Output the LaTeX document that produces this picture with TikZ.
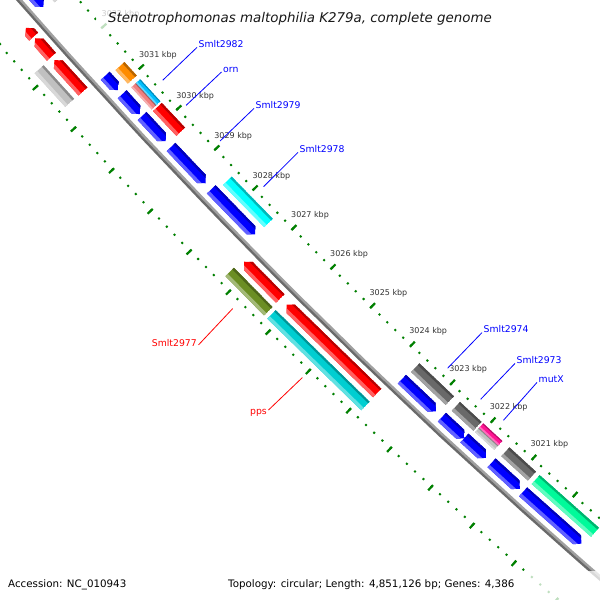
\documentclass[tikz,border=0pt]{standalone}
\usepackage{fontspec}
\setmainfont{DejaVu Sans}
\definecolor{cBlue}{HTML}{0000FF}
\definecolor{cRed}{HTML}{FF0000}
\definecolor{cOrange}{HTML}{FF8C00}
\definecolor{cSky}{HTML}{00BFFF}
\definecolor{cSalmon}{HTML}{F08080}
\definecolor{cCyan}{HTML}{00FFFF}
\definecolor{cDim}{HTML}{696969}
\definecolor{cLightGrey}{HTML}{C0C0C0}
\definecolor{cMagenta}{HTML}{FF1493}
\definecolor{cMint}{HTML}{00FA9A}
\definecolor{cOlive}{HTML}{6B8E23}
\definecolor{cTeal}{HTML}{00CED1}
\definecolor{tickgreen}{HTML}{008000}
\definecolor{tickgrey}{HTML}{333333}
\definecolor{bbLight}{HTML}{A0A0A0}
\definecolor{bbDark}{HTML}{6A6A6A}

% genome coordinate system: k = position in kbp, d = offset from backbone (towards upper right)
\tikzset{gm/.cd, k/.store in=\gmk, d/.store in=\gmd, k=3026, d=0}
\tikzdeclarecoordinatesystem{gm}{%
  \tikzset{gm/.cd,#1}%
  \pgfmathsetmacro\gmA{134.84+((\gmk)-3026)*0.526}%
  \pgfmathsetmacro\gmR{6082-(\gmd)}%
  \pgfpointadd{\pgfpointxy{4589}{-4013}}{\pgfpointpolarxy{\gmA}{\gmR}}%
}

\newcommand\paintfeat[6]{%
  \begin{scope}
    \clip #6;
    \fill[#5] #6;
    \pgfmathsetmacro\fzLo{#3+0.27*((#4)-(#3))}%
    \pgfmathsetmacro\fzHi{#4-0.2*((#4)-(#3))}%
    \fill[#5!62!white] (gm cs:k=#1+0.3,d=#3-1) -- (gm cs:k=#1+0.3,d=\fzLo) -- (gm cs:k=#2-0.3,d=\fzLo) -- (gm cs:k=#2-0.3,d=#3-1) -- cycle;
    \fill[#5!72!black] (gm cs:k=#1+0.3,d=\fzHi) -- (gm cs:k=#1+0.3,d=#4+1) -- (gm cs:k=#2-0.3,d=#4+1) -- (gm cs:k=#2-0.3,d=\fzHi) -- cycle;
  \end{scope}}
\newcommand\gbox[5]{\paintfeat{#1}{#2}{#3}{#4}{#5}{(gm cs:k=#1,d=#3) -- (gm cs:k=#1,d=#4) -- (gm cs:k=#2,d=#4) -- (gm cs:k=#2,d=#3) -- cycle}}
\newcommand\garrowR[5]{\paintfeat{#1}{#2}{#3}{#4}{#5}{(gm cs:k=#1,d=#3) -- (gm cs:k=#1,d=#4) -- (gm cs:k=#2+0.1075,d=#4) -- (gm cs:k=#2,d={0.5*(#3)+0.5*(#4)}) -- (gm cs:k=#2+0.1075,d=#3) -- cycle}}
\newcommand\garrowL[5]{\paintfeat{#1}{#2}{#3}{#4}{#5}{(gm cs:k=#1,d={0.5*(#3)+0.5*(#4)}) -- (gm cs:k=#1-0.1075,d=#4) -- (gm cs:k=#2,d=#4) -- (gm cs:k=#2,d=#3) -- (gm cs:k=#1-0.1075,d=#3) -- cycle}}

\tikzset{
  minortick/.style={draw=tickgreen, line width=2pt},
  majortick/.style={draw=tickgreen, line width=2.2pt},
  ticklbl/.style={font=\fontsize{8}{9}\selectfont, text=tickgrey, inner sep=0pt},
  blab/.style={font=\fontsize{9.3}{11}\selectfont, text=cBlue, inner sep=0.5pt},
  rlab/.style={font=\fontsize{9.3}{11}\selectfont, text=cRed, inner sep=0.5pt},
  bline/.style={draw=cBlue, line width=0.8pt},
  rline/.style={draw=cRed, line width=0.8pt},
  fade/.style={fill=white, fill opacity=0.75},
  footer/.style={font=\fontsize{10.3}{12}\selectfont, text=black, inner sep=0pt},
  titlestyle/.style={font=\fontsize{13.4}{15}\selectfont\itshape, text=black!90, inner sep=0pt},
}

\begin{document}
\begin{tikzpicture}[x=1pt,y=-1pt]
\useasboundingbox (0,0) rectangle (600,600);
\clip (0,0) rectangle (600,600);
\fill[white] (0,0) rectangle (600,600);

% rulers
\foreach \i in {0,...,82} {
  \draw[minortick] (gm cs:k=3018.6+0.2*\i,d=43.5) -- (gm cs:k=3018.6+0.2*\i,d=45.5);
  \draw[minortick] (gm cs:k=3018.6+0.2*\i,d=-43.5) -- (gm cs:k=3018.6+0.2*\i,d=-45.5);
}
\foreach \kk in {3019,...,3034} {
  \draw[majortick] (gm cs:k=\kk,d=42.5) -- (gm cs:k=\kk,d=49.5);
  \draw[majortick] (gm cs:k=\kk,d=-42.5) -- (gm cs:k=\kk,d=-49.5);
}
\foreach \kk in {3021,...,3032} {
  \node[ticklbl] (t\kk) at (gm cs:k=\kk-0.05,d=66) {\kk\ kbp};
}

% backbone
\draw[bbLight, line width=2.4pt] plot[domain=3017:3035,samples=37] (gm cs:k=\x,d=1.2);
\draw[bbDark, line width=2.4pt] plot[domain=3017:3035,samples=37] (gm cs:k=\x,d=-1.2);

% ring A+ : blue arrows
\garrowR{3034.2}{3032.98}{7.5}{19.5}{cBlue}
\garrowR{3031.32}{3030.97}{7.5}{19.5}{cBlue}
\garrowR{3030.87}{3030.39}{7.5}{19.5}{cBlue}
\garrowR{3030.34}{3029.72}{7.5}{19.5}{cBlue}
\garrowR{3029.58}{3028.68}{7.5}{19.5}{cBlue}
\garrowR{3028.53}{3027.40}{7.5}{19.5}{cBlue}
\garrowR{3023.70}{3022.86}{7.5}{19.5}{cBlue}
\garrowR{3022.71}{3022.15}{7.5}{19.5}{cBlue}
\garrowR{3022.16}{3021.63}{7.5}{19.5}{cBlue}
\garrowR{3021.50}{3020.81}{7.5}{19.5}{cBlue}
\garrowR{3020.73}{3019.33}{7.5}{19.5}{cBlue}

% ring B+ : boxes
\gbox{3034.2}{3032.91}{25}{37}{cLightGrey}
\gbox{3031.27}{3030.94}{25}{37}{cOrange}
\gbox{3030.85}{3030.31}{25}{31.5}{cSalmon}
\gbox{3030.85}{3030.31}{31.5}{37}{cSky}
\gbox{3030.27}{3029.66}{25}{37}{cRed}
\gbox{3028.44}{3027.38}{25}{37}{cCyan}
\gbox{3023.67}{3022.81}{25}{37}{cDim}
\gbox{3022.66}{3022.13}{25}{37}{cDim}
\gbox{3022.09}{3021.62}{25}{31}{cLightGrey}
\gbox{3022.09}{3021.62}{31}{37}{cMagenta}
\gbox{3021.45}{3020.80}{25}{37}{cDim}
\gbox{3020.71}{3019.28}{25}{37}{cMint}

% ring A- : red arrows
\garrowL{3032.91}{3032.70}{-19.5}{-7.5}{cRed}
\garrowL{3032.66}{3032.22}{-19.5}{-7.5}{cRed}
\garrowL{3032.14}{3031.38}{-19.5}{-7.5}{cRed}
\garrowL{3027.19}{3026.27}{-19.5}{-7.5}{cRed}
\garrowL{3026.11}{3023.85}{-19.5}{-7.5}{cRed}

% ring B- : boxes
\gbox{3032.2}{3031.39}{-37}{-25}{cLightGrey}
\gbox{3027.24}{3026.26}{-37}{-25}{cOlive}
\gbox{3026.18}{3023.84}{-37}{-25}{cTeal}

% label anchors
\coordinate (eSmlt2982) at (gm cs:k=3030.56,d=53);
\coordinate (eorn) at (gm cs:k=3029.94,d=53);
\coordinate (eSmlt2979) at (gm cs:k=3029.05,d=53);
\coordinate (eSmlt2978) at (gm cs:k=3027.91,d=53);
\coordinate (eSmlt2974) at (gm cs:k=3023.24,d=53);
\coordinate (eSmlt2973) at (gm cs:k=3022.42,d=53);
\coordinate (emutX) at (gm cs:k=3021.86,d=53);
\coordinate (eSmlt2977) at (gm cs:k=3026.74,d=-54.5);
\coordinate (epps) at (gm cs:k=3025.00,d=-54.5);

% labels
\node[blab, anchor=base west] (lSmlt2982) at (198,47.4) {Smlt2982};
\node[blab, anchor=base west] (lorn) at (222.5,72) {orn};
\node[blab, anchor=base west] (lSmlt2979) at (255,108.4) {Smlt2979};
\node[blab, anchor=base west] (lSmlt2978) at (299,152.4) {Smlt2978};
\node[blab, anchor=base west] (lSmlt2974) at (483,332.6) {Smlt2974};
\node[blab, anchor=base west] (lSmlt2973) at (516,363.4) {Smlt2973};
\node[blab, anchor=base west] (lmutX) at (538,382.4) {mutX};
\node[rlab, anchor=base east] (lSmlt2977) at (197.5,346.4) {Smlt2977};
\node[rlab, anchor=base east] (lpps) at (267.5,414) {pps};

\draw[bline] ([xshift=-1pt]lSmlt2982.base west) -- (eSmlt2982);
\draw[bline] ([xshift=-1pt]lorn.base west) -- (eorn);
\draw[bline] ([xshift=-1pt]lSmlt2979.base west) -- (eSmlt2979);
\draw[bline] ([xshift=-1pt]lSmlt2978.base west) -- (eSmlt2978);
\draw[bline] ([xshift=-1pt]lSmlt2974.base west) -- (eSmlt2974);
\draw[bline] ([xshift=-1pt]lSmlt2973.base west) -- (eSmlt2973);
\draw[bline] ([xshift=-1pt]lmutX.base west) -- (emutX);
\draw[rline] ([xshift=1pt,yshift=1.5pt]lSmlt2977.base east) -- (eSmlt2977);
\draw[rline] ([xshift=1pt,yshift=4pt]lpps.base east) -- (epps);

% title and footer
\fill[fade] (96,0) rectangle (504,31);
\node[titlestyle, anchor=base] (title) at (300,22.5) {Stenotrophomonas maltophilia K279a, complete genome};
\fill[fade] (0,571) rectangle (600,600);
\node[footer, anchor=base west] (acc) at (8,587) {Accession: NC\_010943};
\node[footer, anchor=base west] (topo) at (228,587) {Topology: circular; Length: 4,851,126 bp; Genes: 4,386};
\end{tikzpicture}
\end{document}
